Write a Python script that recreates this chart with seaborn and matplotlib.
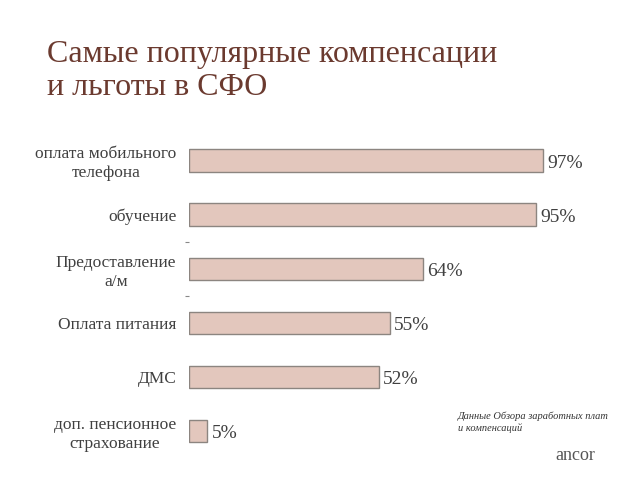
import matplotlib
matplotlib.use("Agg")
import matplotlib.pyplot as plt
import seaborn as sns
import pandas as pd

categories = ["оплата мобильного\nтелефона", "обучение", "Предоставление\nа/м",
              "Оплата питания", "ДМС", "доп. пенсионное\nстрахование"]
values = [97, 95, 64, 55, 52, 5]
value_labels = ["97%", "95%", "64%", "55%", "52%", "5%"]

df = pd.DataFrame({"cat": categories, "val": values})

sns.set_style("white")
plt.rcParams["font.family"] = ["Liberation Serif", "DejaVu Serif"]

fig = plt.figure(figsize=(6.4, 4.8), dpi=100)
ax = fig.add_axes([0.295, 0.046, 0.571, 0.676])

sns.barplot(data=df, x="val", y="cat", orient="h", ax=ax, color="#e3c7bd",
            edgecolor="#8c8580", linewidth=1.0, width=0.41, saturation=1)

ax.set_xlim(0, 100)
ax.set_ylim(5.5, -0.5)
ax.set_xlabel("")
ax.set_ylabel("")
ax.set_xticks([])
for s in ax.spines.values():
    s.set_visible(False)

ax.tick_params(axis="y", length=0, pad=9, labelsize=12.5, labelcolor="#404040")
for lbl in ax.get_yticklabels():
    lbl.set_multialignment("center")
    lbl.set_linespacing(1.25)

ax.set_yticks([1.5, 2.5], minor=True)
ax.tick_params(axis="y", which="minor", left=True, length=3, width=0.8,
               color="#888888", pad=2)

for i, (v, t) in enumerate(zip(values, value_labels)):
    ax.text(v + 1.2, i + 0.05, t, va="center", ha="left", fontsize=14, color="#404040")

fig.text(47 / 640, 1 - 95 / 480, "Самые популярные компенсации\nи льготы в СФО",
         fontsize=23, color="#6b3a2f", ha="left", va="baseline", linespacing=1.2)

fig.text(458 / 640, 1 - 431 / 480, "Данные Обзора заработных плат\nи компенсаций",
         fontsize=7.5, style="italic", color="#333333", ha="left", va="baseline",
         linespacing=1.3)
fig.text(555 / 640, 1 - 460 / 480, "ancor", fontsize=13, color="#555555",
         ha="left", va="baseline")

fig.savefig("out.png", dpi=100)
